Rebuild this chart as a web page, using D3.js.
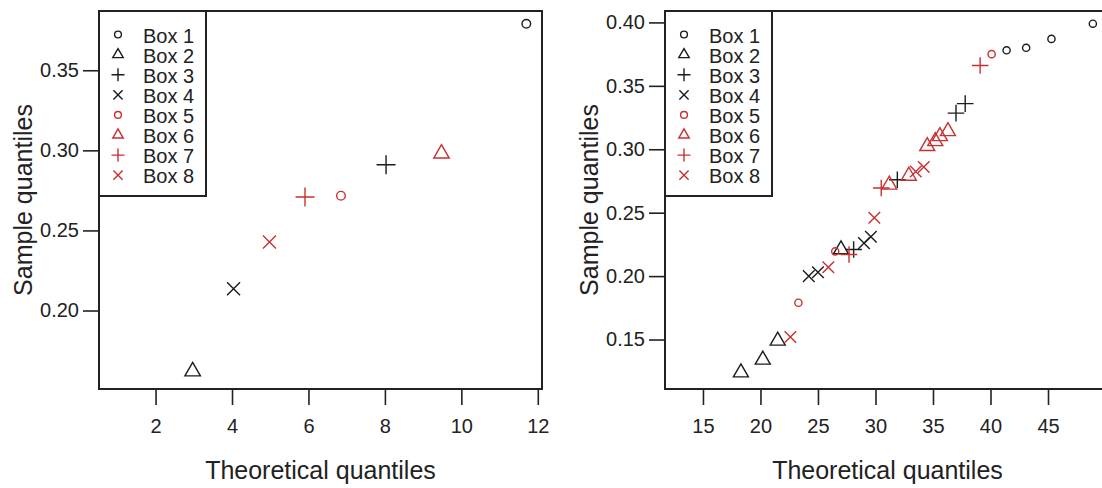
<!DOCTYPE html>
<html>
<head>
<meta charset="utf-8">
<script src="https://cdn.jsdelivr.net/npm/d3@7"></script>
<style>
body { margin: 0; background: #fff; }
svg { display: block; font-family: "Liberation Sans", Arial, sans-serif; }
</style>
</head>
<body>
<svg id="chart" width="1102" height="488"></svg>
<script>
// legend entries
const boxNames = ["Box 1", "Box 2", "Box 3", "Box 4", "Box 5", "Box 6", "Box 7", "Box 8"];

// left panel: one point per box (theoretical, sample)
const leftX = [11.7, 2.97, 8.03, 4.04, 6.85, 9.48, 5.91, 4.98];
const leftY = [0.379, 0.162, 0.291, 0.2136, 0.2717, 0.298, 0.2709, 0.2428];

// right panel: points per box, [theoretical, sample]
const rBox1 = [[41.4, 0.378], [43.1, 0.380], [45.3, 0.387], [48.9, 0.399]];
const rBox2 = [[18.3, 0.124], [20.2, 0.134], [21.5, 0.149], [27.0, 0.221]];
const rBox3 = [[28.1, 0.221], [31.9, 0.276], [37.0, 0.3285], [37.8, 0.336]];
const rBox4 = [[24.2, 0.200], [25.0, 0.203], [29.0, 0.226], [29.6, 0.231]];
const rBox5 = [[23.3, 0.179], [26.5, 0.2195], [40.1, 0.375]];
const rBox6 = [[31.2, 0.272], [32.9, 0.279], [34.5, 0.3024], [35.2, 0.3063], [35.6, 0.3102], [36.3, 0.3142]];
const rBox7 = [[27.7, 0.217], [30.5, 0.2695], [39.1, 0.366]];
const rBox8 = [[22.6, 0.152], [25.9, 0.207], [29.9, 0.246], [33.5, 0.2825], [34.2, 0.286]];

const leftTicksX = [2, 4, 6, 8, 10, 12];
const leftTicksY = [0.20, 0.25, 0.30, 0.35];
const rightTicksX = [15, 20, 25, 30, 35, 40, 45];
const rightTicksY = [0.15, 0.20, 0.25, 0.30, 0.35, 0.40];

const xTitle = "Theoretical quantiles";
const yTitle = "Sample quantiles";

// marker styling by box index
const shapes = ["circle", "triangle", "plus", "cross", "circle", "triangle", "plus", "cross"];
const BLACK = "#1c1c1c", RED = "#c93030";
const colorOf = i => i < 4 ? BLACK : RED;

const svg = d3.select("#chart");

function marker(g, shape, cx, cy, sz, color) {
  const sw = 1.4;
  if (shape === "circle") {
    g.append("circle").attr("cx", cx).attr("cy", cy).attr("r", sz.circle)
      .attr("fill", "none").attr("stroke", color).attr("stroke-width", sw);
  } else if (shape === "triangle") {
    const s = sz.tri, h = s * Math.sqrt(3) / 2;
    const pts = [[cx, cy - h * 2 / 3], [cx + s / 2, cy + h / 3], [cx - s / 2, cy + h / 3]];
    g.append("path").attr("d", "M" + pts.join("L") + "Z")
      .attr("fill", "none").attr("stroke", color).attr("stroke-width", sw);
  } else if (shape === "plus") {
    const a = sz.plus;
    g.append("path").attr("d", `M${cx - a},${cy}H${cx + a}M${cx},${cy - a}V${cy + a}`)
      .attr("stroke", color).attr("stroke-width", sw);
  } else {
    const a = sz.cross;
    g.append("path").attr("d", `M${cx - a},${cy - a}L${cx + a},${cy + a}M${cx - a},${cy + a}L${cx + a},${cy - a}`)
      .attr("stroke", color).attr("stroke-width", sw);
  }
}

function panel(opt) {
  const g = svg.append("g");
  const x = d3.scaleLinear().domain(opt.xDomain).range([opt.left, opt.right]);
  const y = d3.scaleLinear().domain(opt.yDomain).range([opt.bottom, opt.top]);

  // axes
  const ax = g.append("g").attr("transform", `translate(0,${opt.bottom})`)
    .call(d3.axisBottom(x).tickValues(opt.ticksX).tickSize(16).tickPadding(14).tickFormat(d3.format("d")));
  const ay = g.append("g").attr("transform", `translate(${opt.left},0)`)
    .call(d3.axisLeft(y).tickValues(opt.ticksY).tickSize(16).tickPadding(4).tickFormat(d3.format(".2f")));
  [ax, ay].forEach(a => {
    a.select(".domain").remove();
    a.selectAll("line").attr("stroke", "#222").attr("stroke-width", 1.6);
    a.selectAll("text").attr("fill", "#222").style("font-size", "20px")
      .style("font-family", "'Liberation Sans', Arial, sans-serif");
  });

  // frame
  g.append("rect").attr("x", opt.left).attr("y", opt.top)
    .attr("width", opt.right - opt.left).attr("height", opt.bottom - opt.top)
    .attr("fill", "none").attr("stroke", "#222").attr("stroke-width", 2);

  // titles
  g.append("text").attr("x", (opt.left + opt.right) / 2).attr("y", 479)
    .attr("text-anchor", "middle").attr("fill", "#222").style("font-size", "25px").text(xTitle);
  g.append("text")
    .attr("transform", `translate(${opt.left - 67.5},${(opt.top + opt.bottom) / 2}) rotate(-90)`)
    .attr("text-anchor", "middle").attr("fill", "#222").style("font-size", "25px").text(yTitle);

  // points
  const pts = g.append("g");
  opt.series.forEach((s, i) => {
    s.forEach(p => marker(pts, shapes[i], x(p[0]), y(p[1]), opt.markSize, colorOf(i)));
  });

  // legend
  const lg = g.append("g");
  lg.append("rect").attr("x", opt.left).attr("y", opt.top)
    .attr("width", 107).attr("height", 185)
    .attr("fill", "#fff").attr("stroke", "#222").attr("stroke-width", 2);
  const legendSize = { circle: 3.4, tri: 10.5, plus: 6.5, cross: 4.6 };
  boxNames.forEach((name, i) => {
    const cy = opt.top + 24.5 + i * 20.1;
    marker(lg, shapes[i], opt.left + 19, cy - 1, legendSize, colorOf(i));
    lg.append("text").attr("x", opt.left + 44).attr("y", cy + 7)
      .attr("fill", "#222").style("font-size", "20px").text(name);
  });
}

panel({
  left: 99, right: 542, top: 11, bottom: 389,
  xDomain: [0.52, 12.11], yDomain: [0.151, 0.387],
  ticksX: leftTicksX, ticksY: leftTicksY,
  series: boxNames.map((n, i) => [[leftX[i], leftY[i]]]),
  markSize: { circle: 4.3, tri: 15.5, plus: 9.5, cross: 6.5 }
});

panel({
  left: 665, right: 1110, top: 11, bottom: 389,
  xDomain: [11.7, 50.39], yDomain: [0.111, 0.409],
  ticksX: rightTicksX, ticksY: rightTicksY,
  series: [rBox1, rBox2, rBox3, rBox4, rBox5, rBox6, rBox7, rBox8],
  markSize: { circle: 3.6, tri: 15, plus: 8.3, cross: 5.8 }
});
</script>
</body>
</html>
